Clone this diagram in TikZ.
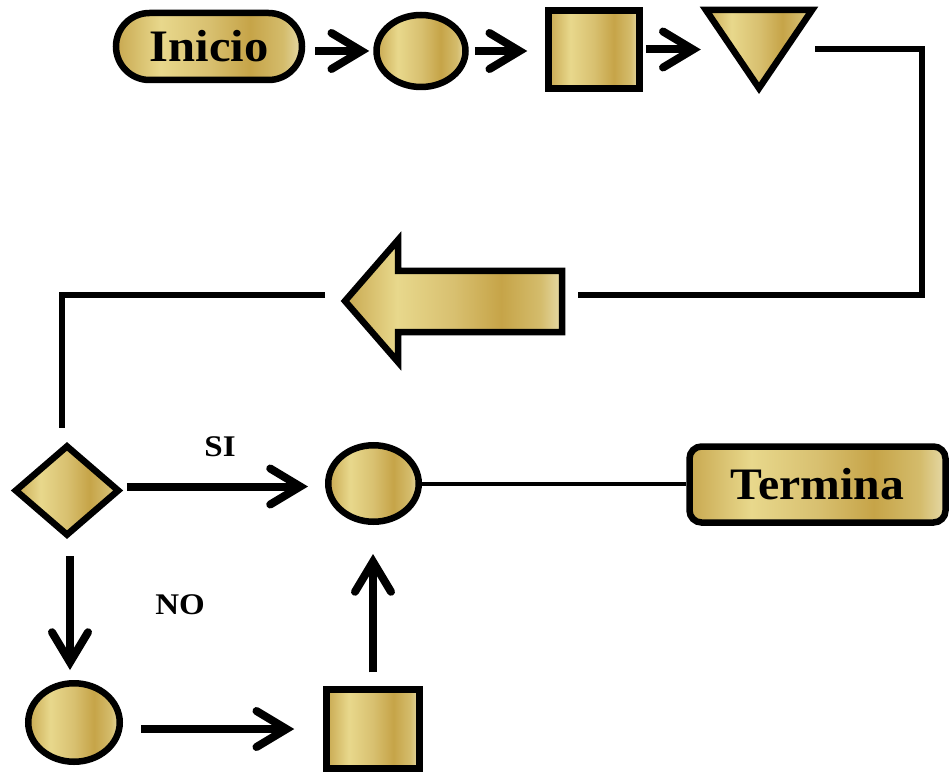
\documentclass[tikz,border=0pt]{standalone}
\usepackage{fontspec}
\setmainfont{Liberation Serif}
\usetikzlibrary{shapes.geometric,shapes.misc,arrows.meta}
\definecolor{g1}{HTML}{C8A850}
\definecolor{g2}{HTML}{E8D88C}
\definecolor{g3}{HTML}{D8C070}
\definecolor{g4}{HTML}{C6A448}
\definecolor{g5}{HTML}{D4BC6C}
\definecolor{g6}{HTML}{E6DAA8}
\pgfdeclarehorizontalshading{gold}{100bp}{color(0bp)=(g1); color(25bp)=(g1); color(37bp)=(g2); color(50bp)=(g3); color(61bp)=(g4); color(70bp)=(g5); color(75bp)=(g6); color(100bp)=(g6)}
\tikzset{
  goldfill/.style={draw=black, line width=6.5pt, shading=gold},
  goldshape/.style={goldfill, inner sep=0pt},
  conn/.style={line width=8pt, -{Straight Barb[length=30pt,width=36pt,line cap=round,line join=miter]}},
  wire/.style={line width=6.5pt},
  lbl/.style={font=\bfseries\fontsize{30}{36}\selectfont},
  big/.style={font=\bfseries\fontsize{45}{50}\selectfont}
}
\begin{document}
\begin{tikzpicture}[x=1pt,y=-1pt]
\useasboundingbox (0,0) rectangle (949,775);
% top row
\node[goldshape, rounded rectangle, minimum width=186pt, minimum height=67pt, big] (inicio) at (209,46.5) {\scalebox{1.08}[1]{Inicio}};
\node[goldshape, ellipse, minimum width=89pt, minimum height=72pt] (c1) at (421,51) {};
\node[goldshape, rectangle, minimum width=91pt, minimum height=78pt] (s1) at (594,49.5) {};
\node[minimum width=106pt, minimum height=78pt, inner sep=0pt] (tri) at (759,49) {};
\path[goldfill] (tri.north west) -- (tri.north east) -- (tri.south) -- cycle;
% big arrow
\path[goldfill] (345,301) -- (398,240) -- (398,271) -- (562,271) -- (562,332) -- (398,332) -- (398,362) -- cycle;
\coordinate (bigR) at (578,295);
\coordinate (bigL) at (325,295);
\coordinate (rc) at (922,295);
\coordinate (lc) at (62,295);
\coordinate (ld) at (62,428);
% lower part
\node[goldshape, diamond, minimum width=105pt, minimum height=91pt] (d) at (67,490.5) {};
\node[goldshape, ellipse, minimum width=90.5pt, minimum height=76.5pt] (c2) at (373.5,483.5) {};
\node[goldshape, rectangle, rounded corners=12pt, minimum width=256pt, minimum height=76pt, big] (term) at (817.5,484.5) {\scalebox{1.06}[1]{Termina}};
\node[goldshape, ellipse, minimum width=91.5pt, minimum height=78.5pt] (c3) at (74,722.5) {};
\node[goldshape, rectangle, minimum width=93pt, minimum height=79pt] (s2) at (373,729) {};
\node[lbl] (si) at (220,447) {\scalebox{1.1}[1]{SI}};
\node[lbl] (no) at (180,605) {\scalebox{1.1}[1]{NO}};
% connectors
\draw[conn, shorten <=10pt, shorten >=4pt] (inicio.east |- c1.west) -- (c1.west);
\draw[conn, shorten <=6pt, shorten >=18pt] (c1.east) -- (c1.east -| s1.west);
\draw[conn, shorten <=3pt, shorten >=5pt] (s1.east) -- (s1.east -| tri.west);
\draw[wire] ([xshift=3pt]tri.east) -| (rc) -- (bigR);
\draw[wire] (bigL) -- (lc) -- (ld);
\draw[conn, shorten <=4pt, shorten >=17pt] ([yshift=4pt]d.east) -- ([yshift=4pt]d.east -| c2.west);
\draw[line width=4pt] (c2.east) -- (c2.east -| term.west);
\draw[conn, shorten <=17pt, shorten >=10pt] ([xshift=3pt]d.south) -- ([xshift=3pt]d.south |- c3.north);
\draw[conn, shorten <=18pt, shorten >=29pt] (c3.east |- s2.west) -- (s2.west);
\draw[conn, shorten <=14pt, shorten >=29pt] (s2.north) -- (s2.north |- c2.south);
\end{tikzpicture}
\end{document}
